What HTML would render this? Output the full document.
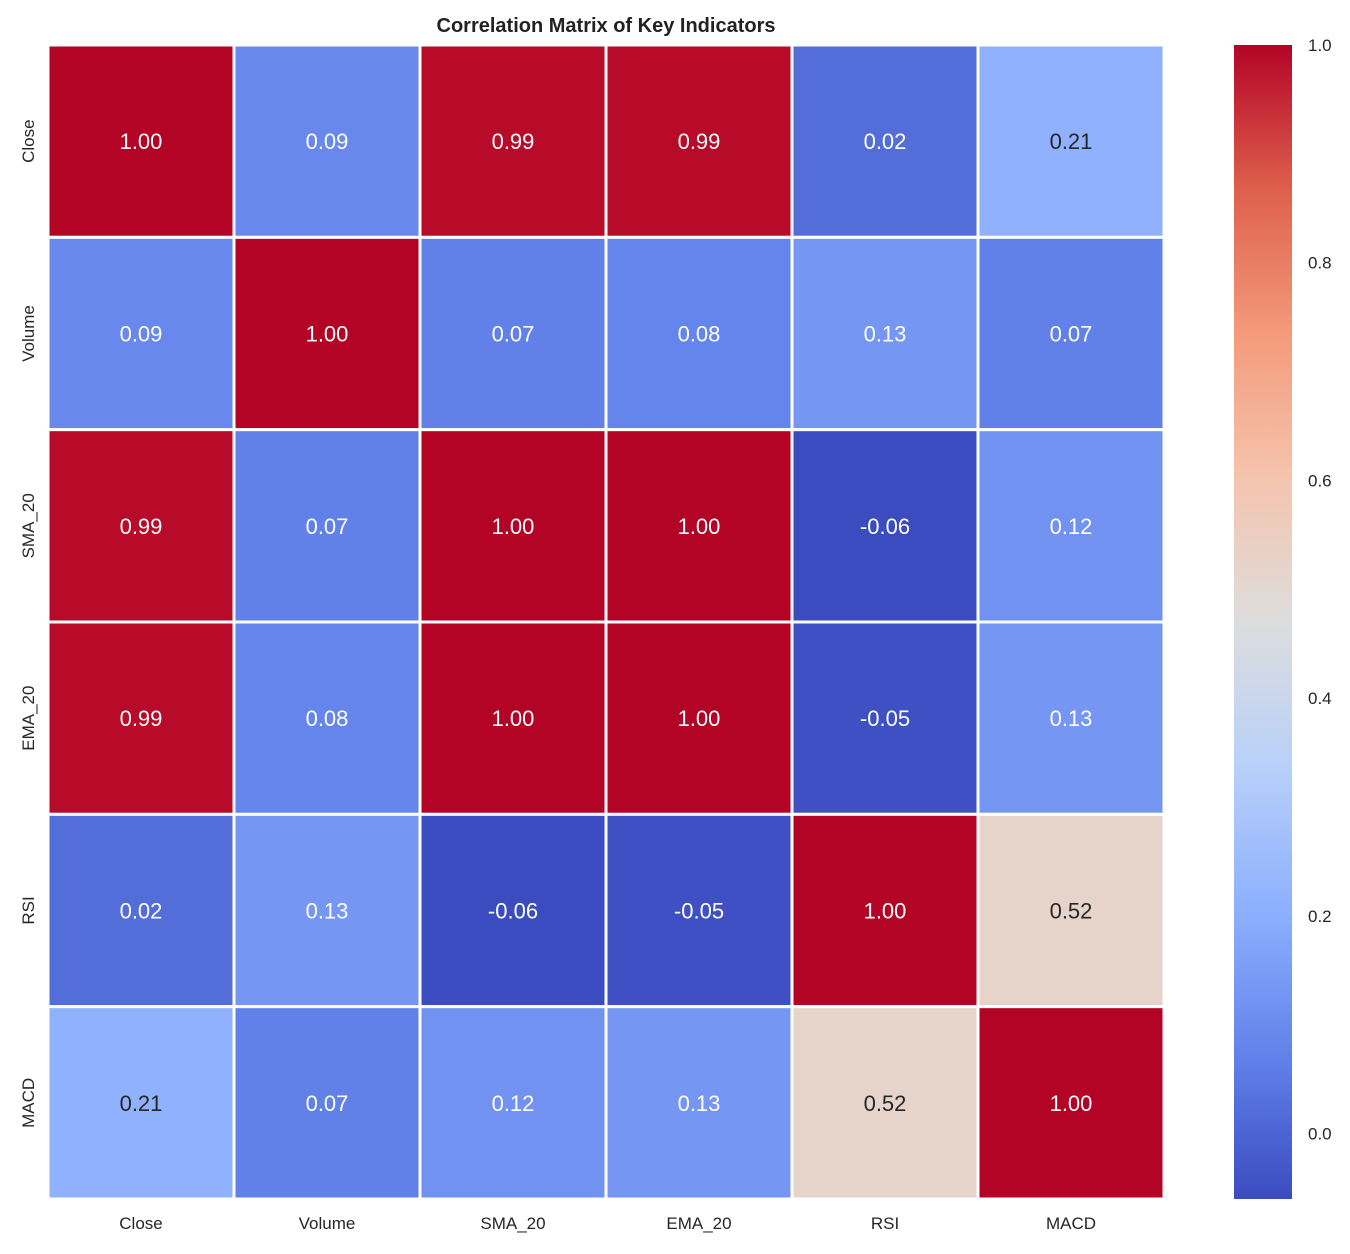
<!DOCTYPE html>
<html><head><meta charset="utf-8"><style>
body{margin:0;background:#fff;font-family:"Liberation Sans",Arial,sans-serif}
</style></head><body>
<svg id="chart" width="1350" height="1249" xmlns="http://www.w3.org/2000/svg" font-family="Liberation Sans, Arial, sans-serif">
<defs><linearGradient id="cw" x1="0" y1="1" x2="0" y2="0">
<stop offset="0" stop-color="rgb(59,76,192)"/><stop offset="0.125" stop-color="rgb(98,130,234)"/><stop offset="0.25" stop-color="rgb(141,176,254)"/><stop offset="0.375" stop-color="rgb(184,208,249)"/><stop offset="0.5" stop-color="rgb(221,221,221)"/><stop offset="0.625" stop-color="rgb(245,196,173)"/><stop offset="0.75" stop-color="rgb(244,154,123)"/><stop offset="0.875" stop-color="rgb(222,96,77)"/><stop offset="1" stop-color="rgb(180,4,38)"/>
</linearGradient></defs>
<text x="606" y="32" text-anchor="middle" font-size="20" font-weight="bold" fill="#222">Correlation Matrix of Key Indicators</text>
<g id="cells"></g><g id="labels"></g>
<rect x="1234" y="45" width="58" height="1154" fill="url(#cw)"/>
<g id="cbticks"></g>
</svg>
<script>
const categories=["Close","Volume","SMA_20","EMA_20","RSI","MACD"];
const values=[
[1.00,0.09,0.99,0.99,0.02,0.21],
[0.09,1.00,0.07,0.08,0.13,0.07],
[0.99,0.07,1.00,1.00,-0.06,0.12],
[0.99,0.08,1.00,1.00,-0.05,0.13],
[0.02,0.13,-0.06,-0.05,1.00,0.52],
[0.21,0.07,0.12,0.13,0.52,1.00]];
const cbTicks=[0.0,0.2,0.4,0.6,0.8,1.0];
const vmin=-0.06,vmax=1.0;
const X0=48,X1=1164,Y0=45,Y1=1199,CB0=45,CB1=1199;
const stops=[[59,76,192],[98,130,234],[141,176,254],[184,208,249],[221,221,221],[245,196,173],[244,154,123],[222,96,77],[180,4,38]];
function cmap(v){let t=(v-vmin)/(vmax-vmin);t=Math.max(0,Math.min(1,t));const p=t*8,i=Math.min(7,Math.floor(p)),f=p-i;
return stops[i].map((c,k)=>Math.round(c+(stops[i+1][k]-c)*f));}
function lum(c){const l=c.map(x=>{x/=255;return x<=0.03928?x/12.92:Math.pow((x+0.055)/1.055,2.4)});return 0.2126*l[0]+0.7152*l[1]+0.0722*l[2];}
const n=categories.length,cw=(X1-X0)/n,ch=(Y1-Y0)/n;
const xs=i=>X0+i*cw, ys=j=>Y0+j*ch;
const cbY=v=>CB1-(v-vmin)/(vmax-vmin)*(CB1-CB0);
const NS="http://www.w3.org/2000/svg";
const cells=document.getElementById('cells'),labels=document.getElementById('labels'),cbt=document.getElementById('cbticks');
function mk(tag,attrs,parent,text){const e=document.createElementNS(NS,tag);for(const k in attrs)e.setAttribute(k,attrs[k]);if(text!==undefined)e.textContent=text;parent.appendChild(e);return e;}
for(let r=0;r<n;r++)for(let c=0;c<n;c++){
 const v=values[r][c],col=cmap(v);
 const rect=mk('rect',{x:xs(c),y:ys(r),width:cw,height:ch,fill:`rgb(${col})`,stroke:'#fff','stroke-width':3},cells);
 
 
 const t=mk('text',{x:xs(c)+cw/2,y:ys(r)+ch/2+8,'text-anchor':'middle','font-size':22,fill:lum(col)>0.408?'#262626':'#fff'},cells,v.toFixed(2));
 
 
}
categories.forEach((c,i)=>{
 const a=mk('text',{x:xs(i)+cw/2,y:1229,'text-anchor':'middle','font-size':17,fill:'#262626'},labels,c);
 
 
 const yy=ys(i)+ch/2;
 const b=mk('text',{x:0,y:0,'text-anchor':'middle','font-size':17,fill:'#262626',transform:`translate(34,${yy}) rotate(-90)`},labels,c);
 
 
});
cbTicks.forEach(v=>{
 const t=mk('text',{x:1308,y:cbY(v)+6,'font-size':17,fill:'#262626'},cbt,v.toFixed(1));
 
 
});
</script>
</body></html>
